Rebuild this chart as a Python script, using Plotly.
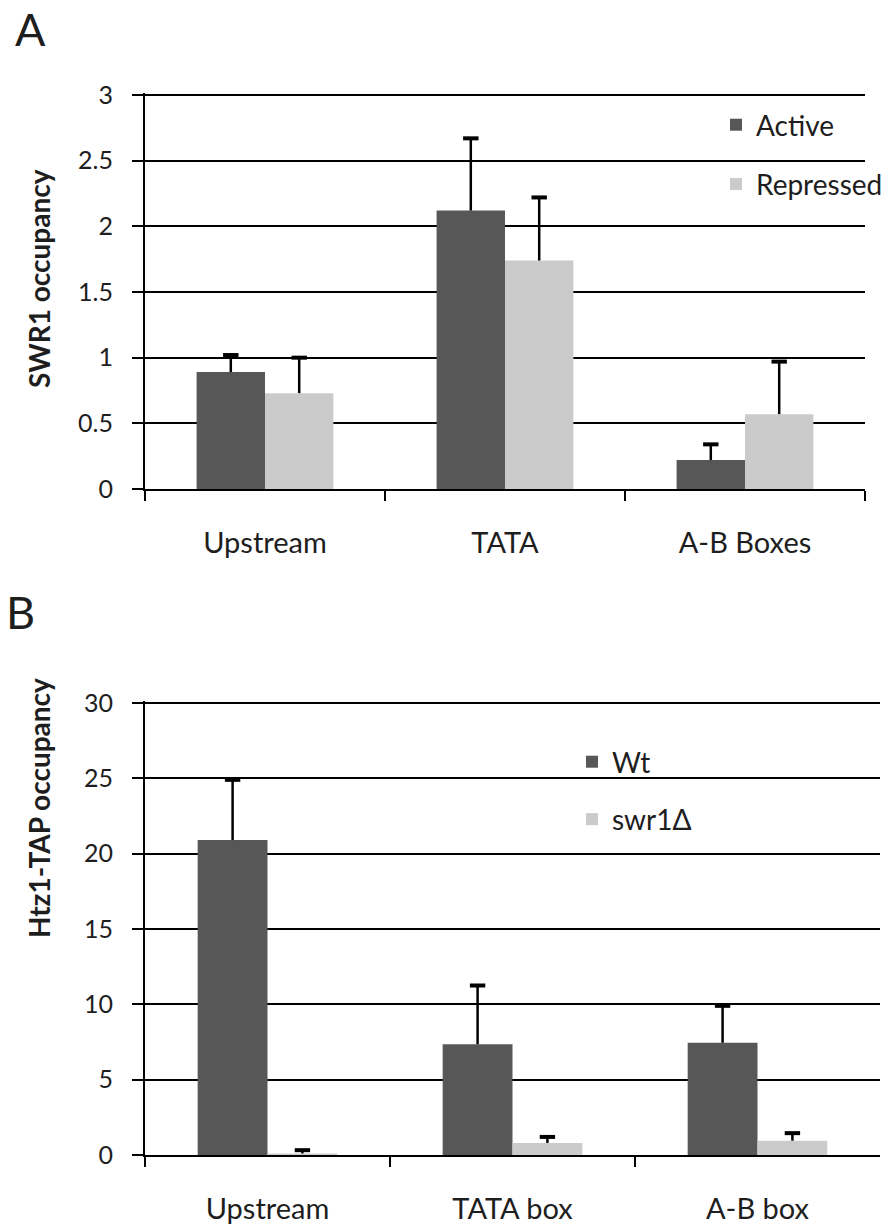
import plotly.graph_objects as go

# ---- Data ----
cats_a = ["Upstream", "TATA", "A-B Boxes"]
active = [0.89, 2.12, 0.22]
active_err = [0.13, 0.55, 0.12]
repressed = [0.73, 1.74, 0.57]
repressed_err = [0.27, 0.48, 0.40]

cats_b = ["Upstream", "TATA box", "A-B box"]
wt = [20.9, 7.35, 7.45]
wt_err = [4.0, 3.9, 2.45]
swr1 = [0.1, 0.8, 0.95]
swr1_err = [0.22, 0.4, 0.5]

yticks_a = [0, 0.5, 1, 1.5, 2, 2.5, 3]
yticks_b = [0, 5, 10, 15, 20, 25, 30]

DARK = "#575757"
LIGHT = "#cbcbcb"
FONT = "Lato, 'Open Sans', sans-serif"
TXT = "#1e1e1e"
W, H = 891, 1224
GAP = 0.43

fig = go.Figure()


def add_series(cats, vals, errs, name, color, xa, ya, leg, grp):
    fig.add_trace(go.Bar(x=cats, y=vals, name=name, marker=dict(color=color, line_width=0),
                         xaxis=xa, yaxis=ya, legend=leg, legendgroup=grp, offsetgroup=grp))
    tops = [v + e for v, e in zip(vals, errs)]
    fig.add_trace(go.Scatter(x=cats, y=tops, mode="markers", showlegend=False, hoverinfo="skip",
                             marker=dict(symbol="line-ew-open", size=11, color="black",
                                         line=dict(color="black", width=4)),
                             error_y=dict(type="data", symmetric=False, array=[0] * len(errs),
                                          arrayminus=errs, color="black", thickness=2.5, width=0),
                             xaxis=xa, yaxis=ya, legendgroup=grp, offsetgroup=grp))


add_series(cats_a, active, active_err, "Active", DARK, "x", "y", "legend", "a1")
add_series(cats_a, repressed, repressed_err, "Repressed", LIGHT, "x", "y", "legend", "a2")
add_series(cats_b, wt, wt_err, "Wt", DARK, "x2", "y2", "legend2", "b1")
add_series(cats_b, swr1, swr1_err, "swr1Δ", LIGHT, "x2", "y2", "legend2", "b2")


def px_x(p):
    return p / W


def px_y(p):
    return 1 - p / H


def y_domain(bottom_px, top_px, top_val, rmax):
    scale = (bottom_px - top_px) / top_val
    return [px_y(bottom_px), px_y(bottom_px - rmax * scale)]


xcommon = dict(showgrid=False, showline=True, linecolor="black", linewidth=2,
               ticks="outside", tickson="boundaries", ticklen=10, tickwidth=2, tickcolor="black",
               tickfont=dict(size=29, color=TXT, family=FONT), ticklabelstandoff=27,
               fixedrange=True, automargin=False)
ycommon = dict(showgrid=True, gridcolor="black", gridwidth=2, showline=True, linecolor="black",
               linewidth=2, ticks="outside", ticklen=11, tickwidth=2, tickcolor="black",
               tickfont=dict(size=25, color=TXT, family=FONT), ticklabelstandoff=14,
               zeroline=False, fixedrange=True, automargin=False)

RA = 3.015
RB = 30.15

title_font = dict(size=28, color=TXT, family=FONT)

fig.update_layout(
    width=W, height=H,
    margin=dict(l=0, r=0, t=0, b=0, autoexpand=False),
    paper_bgcolor="white", plot_bgcolor="white",
    barmode="group", bargap=GAP, bargroupgap=0,
    scattermode="group", scattergap=GAP,
    xaxis=dict(domain=[px_x(145), px_x(865)], anchor="y", **xcommon),
    yaxis=dict(domain=y_domain(489, 95, 3, RA), anchor="x", range=[0, RA], tickvals=yticks_a,
               ticktext=[str(v) for v in yticks_a], **ycommon),
    xaxis2=dict(domain=[px_x(145), px_x(880)], anchor="y2", **xcommon),
    yaxis2=dict(domain=y_domain(1155, 703, 30, RB), anchor="x2", range=[0, RB], tickvals=yticks_b,
                **ycommon),
    legend=dict(x=px_x(716), y=px_y(100), xanchor="left", yanchor="top",
                font=dict(size=28, color=TXT, family=FONT), bgcolor="rgba(0,0,0,0)",
                tracegroupgap=20, itemwidth=30),
    legend2=dict(x=px_x(572), y=px_y(737), xanchor="left", yanchor="top",
                 font=dict(size=28, color=TXT, family=FONT), bgcolor="rgba(0,0,0,0)",
                 tracegroupgap=18, itemwidth=30),
    annotations=[
        dict(text="A", x=px_x(14), y=px_y(1), xref="paper", yref="paper", xanchor="left",
             yanchor="top", showarrow=False, borderpad=0,
             font=dict(size=45, color=TXT, family=FONT)),
        dict(text="B", x=px_x(5), y=px_y(584), xref="paper", yref="paper", xanchor="left",
             yanchor="top", showarrow=False, borderpad=0,
             font=dict(size=45, color=TXT, family=FONT)),
        dict(text="<b>SWR1 occupancy</b>", x=px_x(39), y=px_y(279), xref="paper", yref="paper",
             xanchor="center", yanchor="middle", textangle=-90, showarrow=False, font=title_font),
        dict(text="<b>Htz1-TAP occupancy</b>", x=px_x(39), y=px_y(808), xref="paper", yref="paper",
             xanchor="center", yanchor="middle", textangle=-90, showarrow=False, font=title_font),
    ],
)

fig.write_html("out.html")
